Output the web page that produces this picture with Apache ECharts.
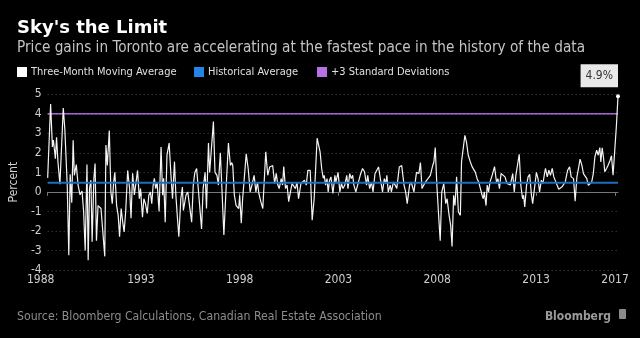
<!DOCTYPE html>
<html><head><meta charset="utf-8">
<script src="https://cdn.jsdelivr.net/npm/echarts@6/dist/echarts.min.js"></script>
<style>html,body{margin:0;padding:0;background:#000}#c{width:640px;height:338px}</style>
</head><body><div id="c"></div>
<script>
// ---- data ----
const titleText = "Sky's the Limit";
const subtitleText = "Price gains in Toronto are accelerating at the fastest pace in the history of the data";
const sourceText = "Source: Bloomberg Calculations, Canadian Real Estate Association";
const seriesNames = ["Three-Month Moving Average", "Historical Average", "+3 Standard Deviations"];
const tickYears = [1988, 1993, 1998, 2003, 2008, 2013, 2017];
const yTicks = [-4, -3, -2, -1, 0, 1, 2, 3, 4, 5];
const historicalAverage = 0.47;
const plus3StdDev = 4.0;
// decimal year of each reading
const years = [
1988.28,1988.43,1988.52,1988.57,1988.62,1988.67,1988.73,1988.8,1988.9,1989.07,1989.15,1989.27,1989.35,1989.42,1989.5,1989.57,1989.63,1989.73,1989.82,1989.92,
1990.02,1990.1,1990.18,1990.27,1990.33,1990.4,1990.47,1990.53,1990.62,1990.68,1990.75,1990.83,1990.9,1990.98,1991.07,1991.17,1991.23,1991.3,1991.4,1991.48,
1991.55,1991.62,1991.68,1991.77,1991.85,1991.92,1992.0,1992.08,1992.15,1992.23,1992.33,1992.43,1992.5,1992.58,1992.67,
1992.78,1992.83,1992.92,1992.98,1993.08,1993.15,1993.23,1993.32,1993.4,1993.48,1993.55,1993.62,1993.68,1993.75,1993.82,1993.92,1994.02,1994.1,1994.15,1994.23,
1994.32,1994.43,1994.52,1994.6,1994.7,1994.77,1994.85,1994.92,1995.02,1995.1,1995.15,1995.2,1995.28,1995.37,1995.45,1995.57,1995.65,1995.73,1995.82,1995.95,
1996.07,1996.15,1996.25,1996.32,1996.42,1996.48,1996.67,1996.75,1996.85,1996.92,1997.02,1997.1,1997.2,1997.32,1997.43,
1997.53,1997.6,1997.65,1997.73,1997.82,1997.9,1997.95,1998.0,1998.08,1998.15,1998.23,1998.33,1998.43,1998.53,1998.62,1998.73,1998.82,1998.9,1998.97,1999.07,
1999.17,1999.32,1999.42,1999.52,1999.67,1999.77,1999.85,1999.93,2000.0,2000.1,2000.17,2000.23,2000.32,2000.4,2000.48,2000.57,2000.65,2000.73,2000.82,2000.9,
2000.98,2001.1,2001.2,2001.28,2001.37,2001.45,2001.57,2001.67,2001.77,2001.92,2002.07,2002.15,2002.23,2002.28,
2002.35,2002.42,2002.48,2002.55,2002.62,2002.72,2002.82,2002.87,2002.98,2003.07,2003.15,2003.23,2003.32,2003.42,2003.48,2003.57,2003.65,2003.72,2003.78,2003.88,
2003.98,2004.1,2004.22,2004.32,2004.42,2004.48,2004.58,2004.67,2004.75,2004.85,2005.03,2005.12,2005.23,2005.32,2005.4,2005.45,2005.52,2005.62,2005.68,2005.78,
2005.87,2005.95,2006.08,2006.2,2006.32,2006.4,2006.48,2006.6,2006.68,2006.82,2006.95,
2007.07,2007.15,2007.23,2007.32,2007.4,2007.53,2007.65,2007.77,2007.83,2007.9,2007.98,2008.07,2008.15,2008.23,2008.33,2008.43,2008.5,2008.6,2008.68,2008.75,
2008.83,2008.9,2008.98,2009.07,2009.17,2009.23,2009.4,2009.48,2009.57,2009.67,2009.77,2009.85,2009.93,2010.02,2010.1,2010.18,2010.27,2010.33,2010.38,2010.47,
2010.53,2010.6,2010.67,2010.78,2010.9,2011.0,2011.07,2011.15,2011.23,2011.33,2011.43,2011.53,2011.7,
2011.82,2011.9,2011.98,2012.07,2012.15,2012.23,2012.32,2012.37,2012.43,2012.52,2012.6,2012.68,2012.77,2012.83,2012.92,2013.02,2013.1,2013.18,2013.27,2013.35,
2013.43,2013.48,2013.57,2013.65,2013.73,2013.82,2013.9,2013.98,2014.07,2014.15,2014.23,2014.32,2014.4,2014.48,2014.6,2014.7,2014.78,2014.9,2014.98,2015.07,
2015.15,2015.23,2015.32,2015.4,2015.48,2015.57,2015.65,2015.73,2015.82,2015.9,2015.98,2016.07,2016.15,2016.23,2016.28,2016.35,2016.42,2016.48,2016.57,2016.65,
2016.75,2016.82,2016.9,2016.98,2017.07,2017.15
];
// three-month moving average, percent
const values = [
0.72,4.5,2.3,2.65,2.2,1.7,2.8,1.55,0.4,4.3,3.2,0.35,-3.25,0.9,-0.55,2.65,0.85,1.4,0.35,-0.15,
0.05,-1.0,-3.0,1.4,-3.5,0.2,0.6,-2.55,0.7,1.45,-2.5,-0.7,-0.6,-0.85,-0.75,-3.3,2.4,1.35,3.15,0,
-0.6,0.5,1.0,-0.7,-1.2,-2.3,-0.85,-1.55,-2.05,-1.0,1.1,0.15,-1.35,0.95,-0.15,
0.7,1.1,-0.35,0.17,-1.3,-0.35,-0.6,-1.1,-0.17,0,-0.6,0.35,0.7,0.17,0.5,-1.0,2.3,-0.17,0.7,-1.55,
1.9,2.5,0.85,-0.35,1.55,-0.17,-1.35,-2.3,-0.35,0.25,-0.95,-1.03,-0.17,0,-0.08,-1.55,0.35,1.0,1.2,-0.4,
-1.9,0.17,1.0,-0.85,2.5,1.0,3.6,1.0,0.85,0.35,2.0,0.17,-2.2,0.35,2.5,
1.35,1.5,1.35,-0.17,-0.7,-0.6,-0.85,-0.17,-1.6,-0.35,-0.43,1.95,1.2,0,0.35,0.85,0,0.5,-0.08,-0.5,
-0.85,2.05,0.85,1.28,1.35,0.43,0.95,0.35,0.17,0.68,0.35,1.3,0.17,0.35,-0.5,0,0.43,0.5,0.17,0.5,
-0.35,0.43,0.35,0.6,0.35,1.1,1.1,-1.45,-0.35,2.75,2.05,1.2,0.7,0.85,
0.35,0.68,0,0.6,0.77,-0.08,0.85,0.5,1.0,0,0.43,0.17,0.35,0.85,0.17,0.94,0.68,0.85,0.35,0,
-0.08,0.85,1.2,1.03,0.35,0.85,0.17,0.5,0,0.94,1.28,0.68,0,0.68,0.43,0.85,0,0.35,0,0.5,
0.35,0.17,1.28,1.35,0.35,0,-0.6,0.35,0.5,0,1.0,
0.94,1.5,0.17,0.35,0.5,0.68,0.85,1.35,1.53,2.27,0.35,-1.2,-2.5,0,0.43,-0.6,-0.35,-1.2,-1.7,-2.8,
-0.17,-0.7,0.77,-1.03,-1.2,1.55,2.9,2.55,1.88,1.55,1.28,1.35,1.0,0.68,0.5,0.43,-0.17,-0.35,0,-0.7,
0.35,0,0.5,0.85,1.3,0.5,0.68,0.17,0.94,0.99,0.77,0.43,0.35,
0.94,0,0.85,0.94,1.93,0.34,-0.35,-0.17,-0.77,0.34,0.77,0.9,-0.17,-0.6,0.17,1.0,0.68,0,0.6,0.43,
0.94,1.2,0.77,1.11,0.85,1.2,0.77,0.85,0.34,0.14,0.09,0.26,0.34,0.51,1.11,1.28,0.77,0.68,-0.48,0.77,
1.2,1.68,1.37,0.94,0.85,0.68,0.34,0.34,0.51,0.94,1.8,2.14,1.88,2.27,1.54,2.26,1.71,1.03,1.2,1.37,
1.62,1.85,0.85,2.05,3.4,4.9
];

// ---- build ----
const xMin = years[0], xMax = years[years.length - 1];
const lineData = years.map((y, i) => [y, values[i]]);
const tickVals = tickYears.map(y => Math.max(y, xMin));
const lastPt = lineData[lineData.length - 1];
const FONT = "'DejaVu Sans Condensed', 'DejaVu Sans', sans-serif";
const legendText = {color: '#e0e0e0', fontSize: 11, fontFamily: FONT, padding: [0, 0, 0, -1]};

const chart = echarts.init(document.getElementById('c'), null, {renderer: 'canvas'});
chart.setOption({
  backgroundColor: '#000',
  animation: false,
  textStyle: {fontFamily: FONT},
  title: [
    {text: titleText, left: 12, top: 14, textStyle: {color: '#fff', fontSize: 18, fontWeight: 'bold', fontFamily: "'DejaVu Sans', sans-serif"}},
    {text: subtitleText, left: 12, top: 36, textStyle: {color: '#c4c4c4', fontSize: 15.2, fontWeight: 'normal', fontFamily: FONT}},
    {text: sourceText, left: 12, top: 306, textStyle: {color: '#8c8c8c', fontSize: 12.2, fontWeight: 'normal', fontFamily: FONT}},
    {text: 'Bloomberg', right: 24, top: 306, textStyle: {color: '#9a9a9a', fontSize: 12, fontWeight: 'bold', fontFamily: FONT}}
  ],
  graphic: [
    {type: 'rect', right: 14, top: 309, shape: {width: 7, height: 10, r: 1}, style: {fill: '#8a8a8a'}}
  ],
  legend: [
    {data: [seriesNames[0]], left: 12, top: 61.5, icon: 'rect', itemWidth: 10, itemHeight: 10, textStyle: legendText, selectedMode: false},
    {data: [seriesNames[1]], left: 189, top: 61.5, icon: 'rect', itemWidth: 10, itemHeight: 10, textStyle: legendText, selectedMode: false},
    {data: [seriesNames[2]], left: 312, top: 61.5, icon: 'rect', itemWidth: 10, itemHeight: 10, textStyle: legendText, selectedMode: false}
  ],
  grid: {left: 41, right: 22, top: 94.3, bottom: 68, containLabel: false},
  xAxis: {
    type: 'value', min: xMin, max: xMax,
    axisLine: {show: true, lineStyle: {color: '#777', width: 1}},
    axisTick: {show: true, customValues: tickVals, length: 4, lineStyle: {color: '#777'}},
    axisLabel: {show: true, customValues: tickVals,
      formatter: v => v === xMin ? '{first|' + Math.floor(v) + '}' : String(Math.floor(v)),
      rich: {first: {color: '#cfcfcf', fontSize: 12, fontFamily: FONT, padding: [0, 14, 0, 0]}},
      color: '#cfcfcf', fontSize: 12, margin: 4, fontFamily: FONT},
    splitLine: {show: false}
  },
  yAxis: {
    type: 'value', min: yTicks[0], max: yTicks[yTicks.length - 1], interval: 1,
    name: 'Percent', nameLocation: 'middle', nameRotate: 90, nameGap: 21,
    nameTextStyle: {color: '#cfcfcf', fontSize: 12, fontFamily: FONT},
    axisLine: {show: false}, axisTick: {show: false},
    axisLabel: {color: '#cfcfcf', fontSize: 12, margin: 6, fontFamily: FONT},
    splitLine: {show: true, lineStyle: {color: '#4a4a4a', type: [1, 3], width: 1}}
  },
  series: [
    {
      name: seriesNames[2], type: 'line', z: 2, showSymbol: false, silent: true,
      data: [[xMin, plus3StdDev], [xMax, plus3StdDev]],
      itemStyle: {color: '#b870e6'}, lineStyle: {color: '#a862d6', width: 1.5}
    },
    {
      name: seriesNames[0], type: 'line', z: 3, showSymbol: false, silent: true,
      data: lineData,
      itemStyle: {color: '#ffffff'}, lineStyle: {color: '#f4f4f4', width: 1.2},
      markPoint: {
        symbol: 'circle', symbolSize: 4, itemStyle: {color: '#fff'}, silent: true,
        data: [{coord: lastPt, value: lastPt[1]}],
        label: {show: true, formatter: p => p.value.toFixed(1) + '%', position: [2, -7], align: 'right', verticalAlign: 'bottom',
          backgroundColor: '#e8e8e8', color: '#333', padding: [6, 5, 5, 5], fontSize: 12, fontFamily: FONT}
      }
    },
    {
      name: seriesNames[1], type: 'line', z: 4, showSymbol: false, silent: true,
      data: [[xMin, historicalAverage], [xMax, historicalAverage]],
      itemStyle: {color: '#2385e6'}, lineStyle: {color: '#1f6cc0', width: 2}
    }
  ]
});
</script>
</body></html>
